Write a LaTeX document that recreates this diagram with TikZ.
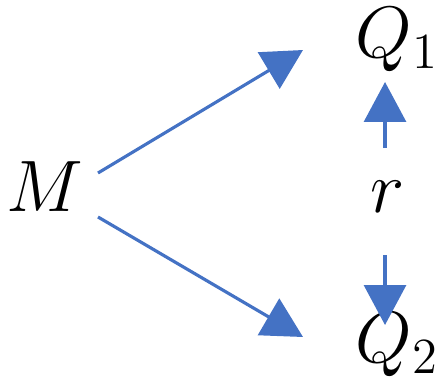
\documentclass[tikz,border=0pt]{standalone}
\usepackage{amsmath}
\usetikzlibrary{arrows.meta}
\definecolor{arrowblue}{HTML}{4472C4}
\begin{document}
\begin{tikzpicture}[every node/.style={inner sep=0pt,font=\fontsize{20}{24}\selectfont},
  arr/.style={arrowblue, line width=0.9pt, -{Triangle[length=0.4cm,width=0.42cm]}}]
  \useasboundingbox (0,0) rectangle (4.43,3.87);
  \node (M) at (0.45,2.0) {$M$};
  \node (Q1) at (3.97,3.47) {$Q_1$};
  \node (Q2) at (3.97,0.42) {$Q_2$};
  \node (r) at (3.88,1.90) {$r$};
  % arrow ends
  \coordinate (a1) at (0.98,2.14);
  \coordinate (a2) at (0.98,1.70);
  \coordinate (t1) at (3.03,3.37);
  \coordinate (t2) at (3.03,0.50);
  \coordinate (u1) at (3.85,2.39);
  \coordinate (u2) at (3.85,3.05);
  \coordinate (d1) at (3.85,1.32);
  \coordinate (d2) at (3.85,0.62);
  \draw[arr] (a1) -- (t1);
  \draw[arr] (a2) -- (t2);
  \draw[arr] (u1) -- (u2);
  \draw[arr] (d1) -- (d2);
\end{tikzpicture}
\end{document}
